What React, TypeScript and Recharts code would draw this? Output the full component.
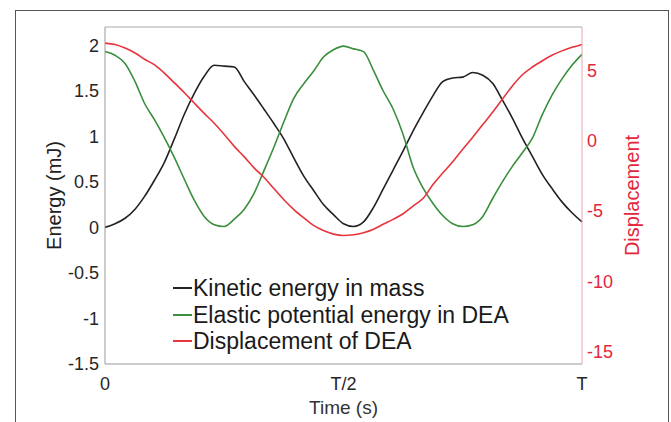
import { LineChart, Line, XAxis, YAxis, Legend, ReferenceLine } from 'recharts';

// time as a fraction of the period T
const timeFrac = [
  0, 0.021, 0.042, 0.063, 0.083, 0.104, 0.125, 0.146, 0.167, 0.188, 0.208, 0.229, 0.25,
  0.271, 0.292, 0.313, 0.333, 0.354, 0.375, 0.396, 0.417, 0.438, 0.458, 0.479, 0.5,
  0.521, 0.542, 0.563, 0.583, 0.604, 0.625, 0.646, 0.667, 0.688, 0.708, 0.729, 0.75,
  0.771, 0.792, 0.813, 0.833, 0.854, 0.875, 0.896, 0.917, 0.938, 0.958, 0.979, 1,
];

const kinetic = [
  0.0, 0.04, 0.1, 0.2, 0.34, 0.52, 0.72, 0.98, 1.25, 1.48, 1.66, 1.78, 1.77,
  1.76, 1.6, 1.45, 1.3, 1.14, 0.97, 0.76, 0.56, 0.4, 0.25, 0.14, 0.04,
  0.01, 0.06, 0.22, 0.42, 0.63, 0.84, 1.06, 1.26, 1.45, 1.6, 1.64, 1.65,
  1.7, 1.67, 1.58, 1.4, 1.2, 0.98, 0.78, 0.58, 0.42, 0.28, 0.16, 0.06,
];

const elastic = [
  1.93, 1.89, 1.8, 1.6, 1.36, 1.18, 0.98, 0.76, 0.52, 0.29, 0.12, 0.03, 0.01,
  0.09, 0.2, 0.38, 0.62, 0.88, 1.16, 1.42, 1.58, 1.72, 1.87, 1.95, 1.99,
  1.96, 1.93, 1.72, 1.5, 1.3, 1.02, 0.66, 0.43, 0.26, 0.13, 0.04, 0.01,
  0.03, 0.12, 0.32, 0.5, 0.67, 0.82, 0.98, 1.24, 1.46, 1.63, 1.78, 1.9,
];

const displacement = [
  6.95, 6.85, 6.6, 6.25, 5.8, 5.4, 4.8, 4.1, 3.4, 2.65, 1.95, 1.25, 0.45,
  -0.4, -1.15, -1.95, -2.6, -3.4, -4.2, -4.9, -5.5, -6.05, -6.4, -6.65, -6.75,
  -6.7, -6.55, -6.3, -5.95, -5.6, -5.2, -4.65, -4.1, -3.1, -2.3, -1.5, -0.6,
  0.25, 1.15, 2.05, 2.95, 3.9, 4.7, 5.25, 5.7, 6.1, 6.4, 6.65, 6.86,
];

const xTicks = [0, 0.5, 1];
const xTickLabels: Record<number, string> = { 0: '0', 0.5: 'T/2', 1: 'T' };
const energyTicks = [-1.5, -1, -0.5, 0, 0.5, 1, 1.5, 2];
const dispTicks = [-15, -10, -5, 0, 5];

const seriesNames = ['Kinetic energy in mass', 'Elastic potential energy in DEA', 'Displacement of DEA'];
const seriesColors = ['#222222', '#3a8f3c', '#e8343c'];

const data = timeFrac.map((t, i) => ({
  t,
  kinetic: kinetic[i],
  elastic: elastic[i],
  displacement: displacement[i],
}));

const font = 'Arial, "Liberation Sans", Helvetica, sans-serif';
const red = '#e3263b';

function LegendBox() {
  return (
    <div style={{ fontFamily: font, fontSize: 23, lineHeight: '26.5px', color: '#1a1a1a' }}>
      {seriesNames.map((name, i) => (
        <div key={name} style={{ display: 'flex', alignItems: 'center', whiteSpace: 'nowrap' }}>
          <span style={{ display: 'inline-block', width: 19, height: 2, background: seriesColors[i], marginRight: 1 }} />
          <span>{name}</span>
        </div>
      ))}
    </div>
  );
}

export default function App() {
  return (
    <div style={{ position: 'absolute', left: 0, top: 0, width: 671, height: 422, background: '#fff', overflow: 'hidden' }}>
      <div
        style={{
          position: 'absolute',
          left: 15,
          top: 10,
          width: 652,
          height: 440,
          border: '1px solid #555',
        }}
      />
      <div style={{ position: 'absolute', left: 0, top: 0 }}>
        <LineChart width={671} height={422} data={data} margin={{ top: 27, right: 29, left: 40, bottom: 8 }}>
          <XAxis
            dataKey="t"
            type="number"
            domain={[0, 1]}
            ticks={xTicks}
            tickFormatter={(v: number) => xTickLabels[v] ?? ''}
            tickLine={false}
            tickSize={0}
            tickMargin={13}
            height={50}
            stroke="#999"
            tick={{ fill: '#262626', fontSize: 18, fontFamily: font }}
            label={{ value: 'Time (s)', position: 'insideBottom', offset: 0, fill: '#333', fontSize: 19, fontFamily: font }}
          />
          <YAxis
            yAxisId="left"
            domain={[-1.5, 2.2]}
            ticks={energyTicks}
            allowDataOverflow
            width={65}
            tickLine={false}
            tickSize={0}
            tickMargin={6}
            stroke="#999"
            tick={{ fill: '#262626', fontSize: 18, fontFamily: font }}
            label={{ value: 'Energy (mJ)', angle: -90, position: 'center', dx: -19, fill: '#222', fontSize: 20, fontFamily: font }}
          />
          <YAxis
            yAxisId="right"
            orientation="right"
            domain={[-15.9, 8.1]}
            ticks={dispTicks}
            allowDataOverflow
            width={60}
            tickLine={false}
            tickSize={0}
            tickMargin={5}
            stroke="#e9a3ab"
            tick={{ fill: red, fontSize: 18, fontFamily: font }}
            label={{ value: 'Displacement', angle: -90, position: 'center', dx: 20, fill: red, fontSize: 20, fontFamily: font }}
          />
          <ReferenceLine yAxisId="left" y={2.2} stroke="#aaa" ifOverflow="extendDomain" />
          <Legend
            layout="vertical"
            align="center"
            verticalAlign="middle"
            wrapperStyle={{ left: 173, top: 275, width: 360 }}
            content={() => <LegendBox />}
          />
          <Line yAxisId="left" type="monotone" dataKey="kinetic" name={seriesNames[0]} stroke={seriesColors[0]} strokeWidth={1.6} dot={false} isAnimationActive={false} />
          <Line yAxisId="left" type="monotone" dataKey="elastic" name={seriesNames[1]} stroke={seriesColors[1]} strokeWidth={1.6} dot={false} isAnimationActive={false} />
          <Line yAxisId="right" type="monotone" dataKey="displacement" name={seriesNames[2]} stroke={seriesColors[2]} strokeWidth={1.6} dot={false} isAnimationActive={false} />
        </LineChart>
      </div>
    </div>
  );
}
